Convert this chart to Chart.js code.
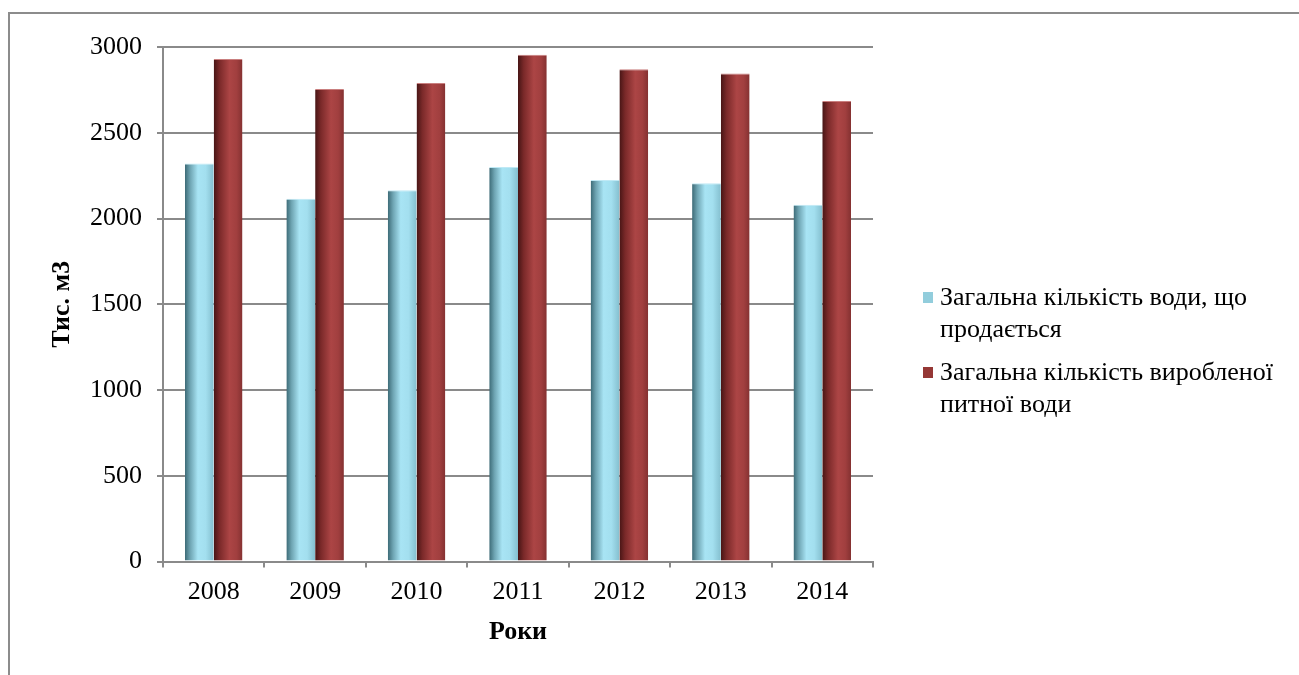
<!DOCTYPE html>
<html lang="uk">
<head>
<meta charset="utf-8">
<title>Вода, тис. м3</title>
<script src="https://cdn.jsdelivr.net/npm/chart.js@4.4.1/dist/chart.umd.min.js"></script>
<style>
  body { margin: 0; background: #fff; }
  #wrap { position: relative; width: 1299px; height: 675px; overflow: hidden; }
  #frame {
    position: absolute; left: 8px; top: 12px; width: 1400px; height: 800px;
    border-top: 2px solid #8c8c8c; border-left: 2px solid #8c8c8c;
  }
  #chart { position: absolute; left: 0; top: 0; }
</style>
</head>
<body>
<div id="wrap">
  <div id="frame"></div>
  <canvas id="chart" width="1299" height="675"></canvas>
</div>
<script>
const years = ['2008', '2009', '2010', '2011', '2012', '2013', '2014'];
const soldWater = [2320, 2115, 2165, 2300, 2225, 2205, 2080];
const producedWater = [2930, 2755, 2790, 2955, 2870, 2845, 2685];
const seriesNames = [
    ['Загальна кількість води, що', 'продається'],
    ['Загальна кількість виробленої', 'питної води']
];
const yMax = 3000;
const yStep = 500;

const serif = '"Liberation Serif", "Times New Roman", serif';
const gridGray = '#8a8a8a';

// flat colours for the legend, shaded stops for the bars themselves
const flatColors = ['#92cddc', '#953735'];
const shades = [
    [[0, '#3c6a76'], [0.18, '#6ea4b2'], [0.45, '#a8e4f4'], [0.72, '#a3dfef'], [1, '#84bfcf']],
    [[0, '#471515'], [0.2, '#7a2929'], [0.55, '#ac4545'], [0.8, '#a13f3f'], [1, '#843131']]
];

// horizontal gradient per bar so the columns look rounded
const cylinderFill = {
    id: 'cylinderFill',
    beforeDatasetsDraw(chart) {
        const c = chart.ctx;
        chart.data.datasets.forEach((ds, i) => {
            chart.getDatasetMeta(i).data.forEach(bar => {
                const { x, width } = bar.getProps(['x', 'width'], true);
                const g = c.createLinearGradient(x - width / 2, 0, x + width / 2, 0);
                shades[i].forEach(([p, col]) => g.addColorStop(p, col));
                bar.options = Object.assign({}, bar.options, { backgroundColor: g });
            });
        });
    }
};

// legend on the right, names wrapped on two lines
const sideLegend = {
    id: 'sideLegend',
    afterDraw(chart) {
        const c = chart.ctx;
        const left = 923, top = 298, lineH = 32, itemGap = 75;
        c.save();
        c.font = '26px ' + serif;
        c.fillStyle = '#000';
        c.textBaseline = 'middle';
        c.textAlign = 'left';
        seriesNames.forEach((lines, i) => {
            const y0 = top + i * itemGap;
            c.fillStyle = flatColors[i];
            c.fillRect(left, y0 - 6, 10, 11);
            c.fillStyle = '#000';
            lines.forEach((line, j) => c.fillText(line, left + 17, y0 + j * lineH));
        });
        c.restore();
    }
};

const ctx = document.getElementById('chart');

const graph = new Chart(ctx, {
    type: 'bar',
    data: {
        labels: years,
        datasets: [{
            label: seriesNames[0].join(' '),
            data: soldWater,
            backgroundColor: flatColors[0],
            borderColor: '#bfe9f5',
            borderWidth: { top: 1, left: 0, right: 0, bottom: 0 },
            borderSkipped: false
        }, {
            label: seriesNames[1].join(' '),
            data: producedWater,
            backgroundColor: flatColors[1],
            borderColor: '#c97f7f',
            borderWidth: { top: 1, left: 0, right: 0, bottom: 0 },
            borderSkipped: false
        }]
    },
    options: {
        responsive: false,
        animation: false,
        events: [],
        categoryPercentage: 0.567,
        barPercentage: 1,
        layout: {
            padding: { left: 0, top: 47, right: 426, bottom: 0 }
        },
        plugins: {
            legend: { display: false },
            tooltip: { enabled: false }
        },
        scales: {
            x: {
                afterFit(scale) { scale.height = 113.5; },
                grid: {
                    drawOnChartArea: false,
                    color: gridGray,
                    lineWidth: 2,
                    tickLength: 6
                },
                border: { color: gridGray, width: 2 },
                ticks: {
                    color: '#000',
                    padding: 9,
                    font: { family: serif, size: 26 }
                },
                title: {
                    display: true,
                    text: 'Роки',
                    color: '#000',
                    padding: { top: 0, bottom: 27 },
                    font: { family: serif, size: 26, weight: 'bold', lineHeight: 1.2 }
                }
            },
            y: {
                min: 0,
                max: yMax,
                afterFit(scale) { scale.width = 163; },
                grid: {
                    color: gridGray,
                    lineWidth: 2,
                    tickLength: 6
                },
                border: { color: gridGray, width: 2 },
                ticks: {
                    stepSize: yStep,
                    color: '#000',
                    padding: 15,
                    font: { family: serif, size: 26 },
                    callback: value => String(value)
                },
                title: {
                    display: true,
                    text: 'Тис. м3',
                    color: '#000',
                    padding: { top: 47, bottom: 0 },
                    font: { family: serif, size: 26, weight: 'bold', lineHeight: 1.2 }
                }
            }
        }
    },
    plugins: [cylinderFill, sideLegend]
});
</script>
</body>
</html>
